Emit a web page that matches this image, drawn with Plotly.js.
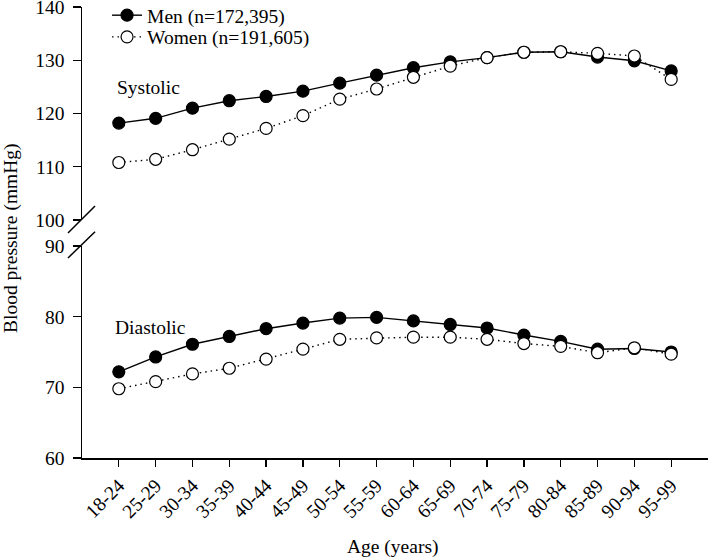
<!DOCTYPE html>
<html>
<head>
<meta charset="utf-8">
<script src="https://cdn.plot.ly/plotly-3.0.1.min.js"></script>
<style>html,body{margin:0;padding:0;background:#fff;}#chart{width:709px;height:559px;}</style>
</head>
<body>
<div id="chart"></div>
<script>
var ageGroups = ["18-24","25-29","30-34","35-39","40-44","45-49","50-54","55-59","60-64","65-69","70-74","75-79","80-84","85-89","90-94","95-99"];
var menSystolic   = [118.2,119.1,121.0,122.4,123.2,124.2,125.7,127.2,128.6,129.7,130.5,131.5,131.6,130.6,129.9,128.0];
var womenSystolic = [110.8,111.4,113.2,115.2,117.2,119.6,122.7,124.6,126.8,128.9,130.5,131.5,131.6,131.3,130.8,126.4];
var menDiastolic   = [72.2,74.3,76.1,77.2,78.3,79.1,79.8,79.9,79.4,78.9,78.4,77.4,76.5,75.4,75.5,75.0];
var womenDiastolic = [69.8,70.8,71.9,72.7,74.0,75.4,76.8,77.0,77.1,77.1,76.8,76.2,75.8,74.9,75.6,74.7];
var legendNames = ["Men (n=172,395)","Women (n=191,605)"];

var FONT = "Liberation Serif, Times New Roman, serif";

var menLine = {color:"#000", width:1.4};
var womenLine = {color:"#000", width:1.4, dash:"1.5px,4px"};
var menMarker = {symbol:"circle", size:12, color:"#000", line:{color:"#000", width:1.2}};
var womenMarker = {symbol:"circle", size:12, color:"#fff", line:{color:"#000", width:1.2}};

var traces = [
  {x:ageGroups, y:menSystolic, name:legendNames[0], mode:"lines+markers", line:menLine, marker:menMarker, xaxis:"x", yaxis:"y", legend:"legend"},
  {x:ageGroups, y:womenSystolic, name:legendNames[1], mode:"lines+markers", line:womenLine, marker:womenMarker, xaxis:"x", yaxis:"y", legend:"legend2"},
  {x:ageGroups, y:menDiastolic, name:legendNames[0], mode:"lines+markers", line:menLine, marker:menMarker, xaxis:"x", yaxis:"y2", showlegend:false},
  {x:ageGroups, y:womenDiastolic, name:legendNames[1], mode:"lines+markers", line:womenLine, marker:womenMarker, xaxis:"x", yaxis:"y2", showlegend:false}
];

var yCommon = {
  showline:true, linecolor:"#000", linewidth:1.5,
  ticks:"outside", ticklen:8, tickwidth:1.3, tickcolor:"#000",
  showgrid:false, zeroline:false,
  tickfont:{family:FONT, size:19.5, color:"#000"},
  ticklabelstandoff:4,
  ticklabeloverflow:"allow",
  automargin:false,
  anchor:"x"
};

var legendFont = {family:FONT, size:19.5, color:"#000"};

var layout = {
  width:709, height:559,
  margin:{l:82, r:1, t:7, b:101, autoexpand:false},
  paper_bgcolor:"#fff", plot_bgcolor:"#fff",
  font:{family:FONT, size:19.5, color:"#000"},
  showlegend:true,
  legend:{x:0.04, y:1.0244, xanchor:"left", yanchor:"top", bgcolor:"rgba(0,0,0,0)", font:legendFont},
  legend2:{x:0.04, y:0.9763, xanchor:"left", yanchor:"top", bgcolor:"rgba(0,0,0,0)", font:legendFont},
  xaxis:{
    type:"category", range:[-1,16], anchor:"y2",
    showline:true, linecolor:"#000", linewidth:1.5,
    ticks:"outside", ticklen:7, tickwidth:1.3, tickcolor:"#000",
    tickangle:-45, showgrid:false, zeroline:false, automargin:false,
    tickfont:{family:FONT, size:19.5, color:"#000"}
  },
  yaxis:Object.assign({}, yCommon, {domain:[0.5277,1], range:[100,140], tickvals:[100,110,120,130,140]}),
  yaxis2:Object.assign({}, yCommon, {domain:[0,0.470], range:[60,90], tickvals:[60,70,80,90]}),
  annotations:[
    {text:"Systolic", xref:"paper", yref:"paper", x:0.0527, y:0.8204, xanchor:"left", yanchor:"middle", showarrow:false, font:{family:FONT, size:19.5, color:"#000"}},
    {text:"Diastolic", xref:"paper", yref:"paper", x:0.0495, y:0.289, xanchor:"left", yanchor:"middle", showarrow:false, font:{family:FONT, size:19.5, color:"#000"}},
    {text:"Blood pressure (mmHg)", xref:"paper", yref:"paper", x:-0.1126, y:0.4867, xanchor:"center", yanchor:"middle", textangle:-90, showarrow:false, font:{family:FONT, size:19.5, color:"#000"}},
    {text:"Age (years)", xref:"paper", yref:"paper", x:0.497, y:-0.1967, xanchor:"center", yanchor:"middle", showarrow:false, font:{family:FONT, size:19.5, color:"#000"}}
  ],
  shapes:[
    {type:"line", xref:"paper", yref:"paper", x0:-0.0224, y0:0.4989, x1:0.0208, y1:0.5588, line:{color:"#000", width:1.5}},
    {type:"line", xref:"paper", yref:"paper", x0:-0.0224, y0:0.4435, x1:0.0208, y1:0.5018, line:{color:"#000", width:1.5}}
  ]
};

Plotly.newPlot("chart", traces, layout, {displayModeBar:false, staticPlot:true});
</script>
</body>
</html>
